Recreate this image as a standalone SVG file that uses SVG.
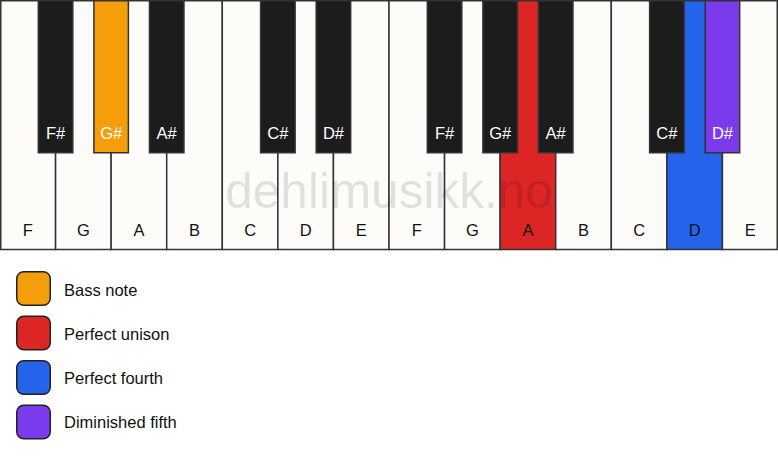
<svg xmlns="http://www.w3.org/2000/svg" width="778" height="461" viewBox="0 0 778 461">
<style>
.w{fill:#fdfcf8;stroke:#333;stroke-width:1.5}
.b{fill:#1c1c1c;stroke:#333;stroke-width:1.5}
.bass{fill:#f59e0b}
.uni{fill:#dc2626}
.p4{fill:#2563eb}
.d5{fill:#7c3aed}
.wl{font-family:"Liberation Sans",Arial,sans-serif;font-size:16.5px;fill:#111;text-anchor:middle}
.bl{font-family:"Liberation Sans",Arial,sans-serif;font-size:16.5px;fill:#fff;text-anchor:middle}
.lg{font-family:"Liberation Sans",Arial,sans-serif;font-size:16.5px;fill:#111}
.sw{stroke:#222;stroke-width:1.5}
.wm{font-family:"Liberation Sans",Arial,sans-serif;font-size:49.5px;fill:#000;fill-opacity:0.11;text-anchor:middle}
</style>
<rect width="778" height="461" fill="#ffffff"/>
<g id="white-keys">
<g id="key-F1"><rect class="w" x="0.75" y="0.75" width="54.82" height="248.75"/><text class="wl" x="27.8" y="236">F</text></g>
<g id="key-G1"><rect class="w" x="55.57" y="0.75" width="55.57" height="248.75"/><text class="wl" x="83.4" y="236">G</text></g>
<g id="key-A1"><rect class="w" x="111.14" y="0.75" width="55.57" height="248.75"/><text class="wl" x="138.9" y="236">A</text></g>
<g id="key-B1"><rect class="w" x="166.71" y="0.75" width="55.57" height="248.75"/><text class="wl" x="194.5" y="236">B</text></g>
<g id="key-C1"><rect class="w" x="222.29" y="0.75" width="55.57" height="248.75"/><text class="wl" x="250.1" y="236">C</text></g>
<g id="key-D1"><rect class="w" x="277.86" y="0.75" width="55.57" height="248.75"/><text class="wl" x="305.6" y="236">D</text></g>
<g id="key-E1"><rect class="w" x="333.43" y="0.75" width="55.57" height="248.75"/><text class="wl" x="361.2" y="236">E</text></g>
<g id="key-F2"><rect class="w" x="389" y="0.75" width="55.57" height="248.75"/><text class="wl" x="416.8" y="236">F</text></g>
<g id="key-G2"><rect class="w" x="444.57" y="0.75" width="55.57" height="248.75"/><text class="wl" x="472.4" y="236">G</text></g>
<g id="key-A2"><rect class="w uni" x="500.14" y="0.75" width="55.57" height="248.75"/><text class="wl" x="527.9" y="236">A</text></g>
<g id="key-B2"><rect class="w" x="555.71" y="0.75" width="55.57" height="248.75"/><text class="wl" x="583.5" y="236">B</text></g>
<g id="key-C2"><rect class="w" x="611.29" y="0.75" width="55.57" height="248.75"/><text class="wl" x="639.1" y="236">C</text></g>
<g id="key-D2"><rect class="w p4" x="666.86" y="0.75" width="55.57" height="248.75"/><text class="wl" x="694.6" y="236">D</text></g>
<g id="key-E2"><rect class="w" x="722.43" y="0.75" width="54.82" height="248.75"/><text class="wl" x="750.2" y="236">E</text></g>
</g>
<text id="watermark" class="wm" x="389" y="208">dehlimusikk.no</text>
<g id="black-keys">
<g id="key-Fs1"><rect class="b" x="38.32" y="0.75" width="34.5" height="152"/><text class="bl" x="55.57" y="139">F#</text></g>
<g id="key-Gs1"><rect class="b bass" x="93.89" y="0.75" width="34.5" height="152"/><text class="bl" x="111.14" y="139">G#</text></g>
<g id="key-As1"><rect class="b" x="149.46" y="0.75" width="34.5" height="152"/><text class="bl" x="166.71" y="139">A#</text></g>
<g id="key-Cs1"><rect class="b" x="260.61" y="0.75" width="34.5" height="152"/><text class="bl" x="277.86" y="139">C#</text></g>
<g id="key-Ds1"><rect class="b" x="316.18" y="0.75" width="34.5" height="152"/><text class="bl" x="333.43" y="139">D#</text></g>
<g id="key-Fs2"><rect class="b" x="427.32" y="0.75" width="34.5" height="152"/><text class="bl" x="444.57" y="139">F#</text></g>
<g id="key-Gs2"><rect class="b" x="482.89" y="0.75" width="34.5" height="152"/><text class="bl" x="500.14" y="139">G#</text></g>
<g id="key-As2"><rect class="b" x="538.46" y="0.75" width="34.5" height="152"/><text class="bl" x="555.71" y="139">A#</text></g>
<g id="key-Cs2"><rect class="b" x="649.61" y="0.75" width="34.5" height="152"/><text class="bl" x="666.86" y="139">C#</text></g>
<g id="key-Ds2"><rect class="b d5" x="705.18" y="0.75" width="34.5" height="152"/><text class="bl" x="722.43" y="139">D#</text></g>
</g>
<g id="legend">
<g id="legend-bass"><rect class="sw bass" x="16.75" y="271.75" width="33.5" height="33.5" rx="7"/><text class="lg" x="64" y="295.7">Bass note</text></g>
<g id="legend-unison"><rect class="sw uni" x="16.75" y="316.25" width="33.5" height="33.5" rx="7"/><text class="lg" x="64" y="340">Perfect unison</text></g>
<g id="legend-fourth"><rect class="sw p4" x="16.75" y="360.75" width="33.5" height="33.5" rx="7"/><text class="lg" x="64" y="384.2">Perfect fourth</text></g>
<g id="legend-dim5"><rect class="sw d5" x="16.75" y="405.25" width="33.5" height="33.5" rx="7"/><text class="lg" x="64" y="428.4">Diminished fifth</text></g>
</g>
</svg>
